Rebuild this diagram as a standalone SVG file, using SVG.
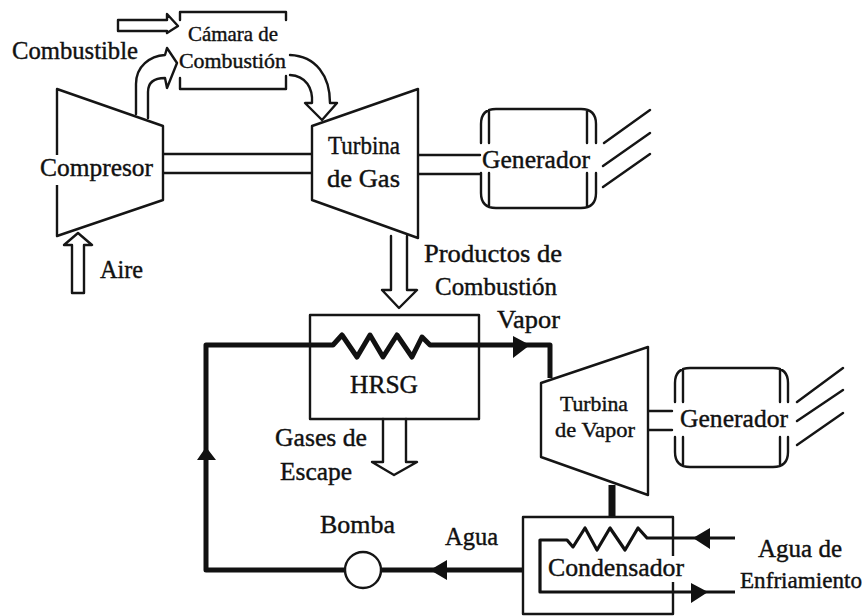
<svg xmlns="http://www.w3.org/2000/svg" width="868" height="616" viewBox="0 0 868 616">
<defs><style>
text{font-family:"Liberation Serif","Times New Roman",serif;fill:#111;stroke:#111;stroke-width:.4;font-size:25px}
.s{font-size:21px}
.e{font-size:23px}
.o{fill:none;stroke:#151515;stroke-width:2.4;stroke-linejoin:round;stroke-linecap:round}
.w{fill:#fff;stroke:#151515;stroke-width:2.4;stroke-linejoin:round}
.t{fill:none;stroke:#111;stroke-width:5;stroke-linejoin:round}
.m{fill:none;stroke:#111;stroke-width:3.2;stroke-linejoin:round}
.h{fill:#111;stroke:none}
</style></defs>
<rect width="868" height="616" fill="#fff"/>
<g id="connectors">
<path class="o" d="M163 154H312M163 173H312M418 155H480M418 174H480M648 411H672M648 430H672"/>
<path class="o" d="M118 20H167V14L178 26L167 33V31H118Z"/>
<path class="o" d="M136 114V84C136 66 150 56 165 55L167 48L177 63L167 88L165 78C154 78 148 82 148 92V118"/>
<path class="o" d="M290 55C316 56 330 76 330 103H337L322 120L305 103H312C313 88 306 76 290 75"/>
<path class="o" d="M72 293V245H64L78 233L92 245H84V293Z"/>
<path class="o" d="M391 236V290H382L399 308L417 290H407V236"/>
<path class="o" d="M383 419V462H372L394 475L417 462H406V419"/>
<path class="t" d="M345 570H206V345H333L342 335L357 357L370 335L383 357L397 335L412 357L422 337L430 345H550V378"/>
<path class="t" d="M381 570H523"/>
<path class="t" style="stroke-width:7" d="M612 485V517"/>
<path class="m" d="M735 538H647L638 528L625 550L610 528L597 550L585 528L573 547L567 540H540V592H735"/>
<path class="h" d="M513 336L530 345L513 358ZM206 447L216 460H197ZM447 560V580L430 570ZM710 528V549L693 538ZM691 583L708 592L691 603Z"/>
<path class="o" d="M604 143L650 110M603 166L650 133M603 187L650 154M797 402L843 368M797 421L843 390M797 445L843 413"/>
</g>
<g id="camara"><path class="o" d="M180 20V12H286V20M180 78V89H286V76"/><text class="s" x="188" y="41" textLength="90" lengthAdjust="spacingAndGlyphs">Cámara de</text><text class="s" x="179" y="68" textLength="107" lengthAdjust="spacingAndGlyphs">Combustión</text></g>
<g id="combustible"><text x="12" y="59" textLength="126" lengthAdjust="spacingAndGlyphs">Combustible</text></g>
<g id="compresor"><path class="w" d="M57 89L163 126V200L57 236Z"/><rect x="50" y="155" width="14" height="30" fill="#fff"/><text x="40" y="176" textLength="113" lengthAdjust="spacingAndGlyphs">Compresor</text></g>
<g id="turbina-gas"><path class="w" d="M312 126L418 89V238L312 200Z"/><text x="328" y="154" textLength="72" lengthAdjust="spacingAndGlyphs">Turbina</text><text x="327" y="187" textLength="73" lengthAdjust="spacingAndGlyphs">de Gas</text></g>
<g id="aire"><text x="100" y="278" textLength="43" lengthAdjust="spacingAndGlyphs">Aire</text></g>
<g id="generador-1"><path class="o" d="M481 143V124Q481 109 496 109H581Q596 109 596 124V143M481 173V193Q481 208 496 208H581Q596 208 596 193V173M489 110V143M587 110V143M489 173V207M587 173V207"/><text x="482" y="168" textLength="108" lengthAdjust="spacingAndGlyphs">Generador</text></g>
<g id="productos"><text x="424" y="262" textLength="138" lengthAdjust="spacingAndGlyphs">Productos de</text><text x="435" y="295" textLength="122" lengthAdjust="spacingAndGlyphs">Combustión</text></g>
<g id="vapor"><text x="497" y="328" textLength="63" lengthAdjust="spacingAndGlyphs">Vapor</text></g>
<g id="hrsg"><path class="o" d="M310 315H479V419H310Z"/><text x="350" y="393" textLength="68" lengthAdjust="spacingAndGlyphs">HRSG</text></g>
<g id="gases"><text x="275" y="446" textLength="92" lengthAdjust="spacingAndGlyphs">Gases de</text><text x="280" y="480" textLength="72" lengthAdjust="spacingAndGlyphs">Escape</text></g>
<g id="bomba"><circle class="w" cx="363" cy="570" r="18"/><text x="320" y="533" textLength="75" lengthAdjust="spacingAndGlyphs">Bomba</text></g>
<g id="agua"><text x="445" y="545" textLength="53" lengthAdjust="spacingAndGlyphs">Agua</text></g>
<g id="turbina-vapor"><path class="w" d="M541 383L648 347V495L541 457Z"/><text class="s" x="560" y="411" textLength="68" lengthAdjust="spacingAndGlyphs">Turbina</text><text class="s" x="555" y="437" textLength="80" lengthAdjust="spacingAndGlyphs">de Vapor</text></g>
<g id="generador-2"><path class="o" d="M675 402V383Q675 368 690 368H773Q788 368 788 383V402M675 437V452Q675 467 690 467H773Q788 467 788 452V437M683 369V402M780 369V402M683 437V466M780 437V466"/><text x="680" y="427" textLength="108" lengthAdjust="spacingAndGlyphs">Generador</text></g>
<g id="condensador"><path class="o" d="M523 517H673V614H523Z"/><rect x="666" y="556" width="14" height="26" fill="#fff"/><text x="548" y="576" textLength="136" lengthAdjust="spacingAndGlyphs">Condensador</text></g>
<g id="agua-enfriamiento"><text x="758" y="557" textLength="84" lengthAdjust="spacingAndGlyphs">Agua de</text><text class="e" x="740" y="588" textLength="122" lengthAdjust="spacingAndGlyphs">Enfriamiento</text></g>
</svg>
